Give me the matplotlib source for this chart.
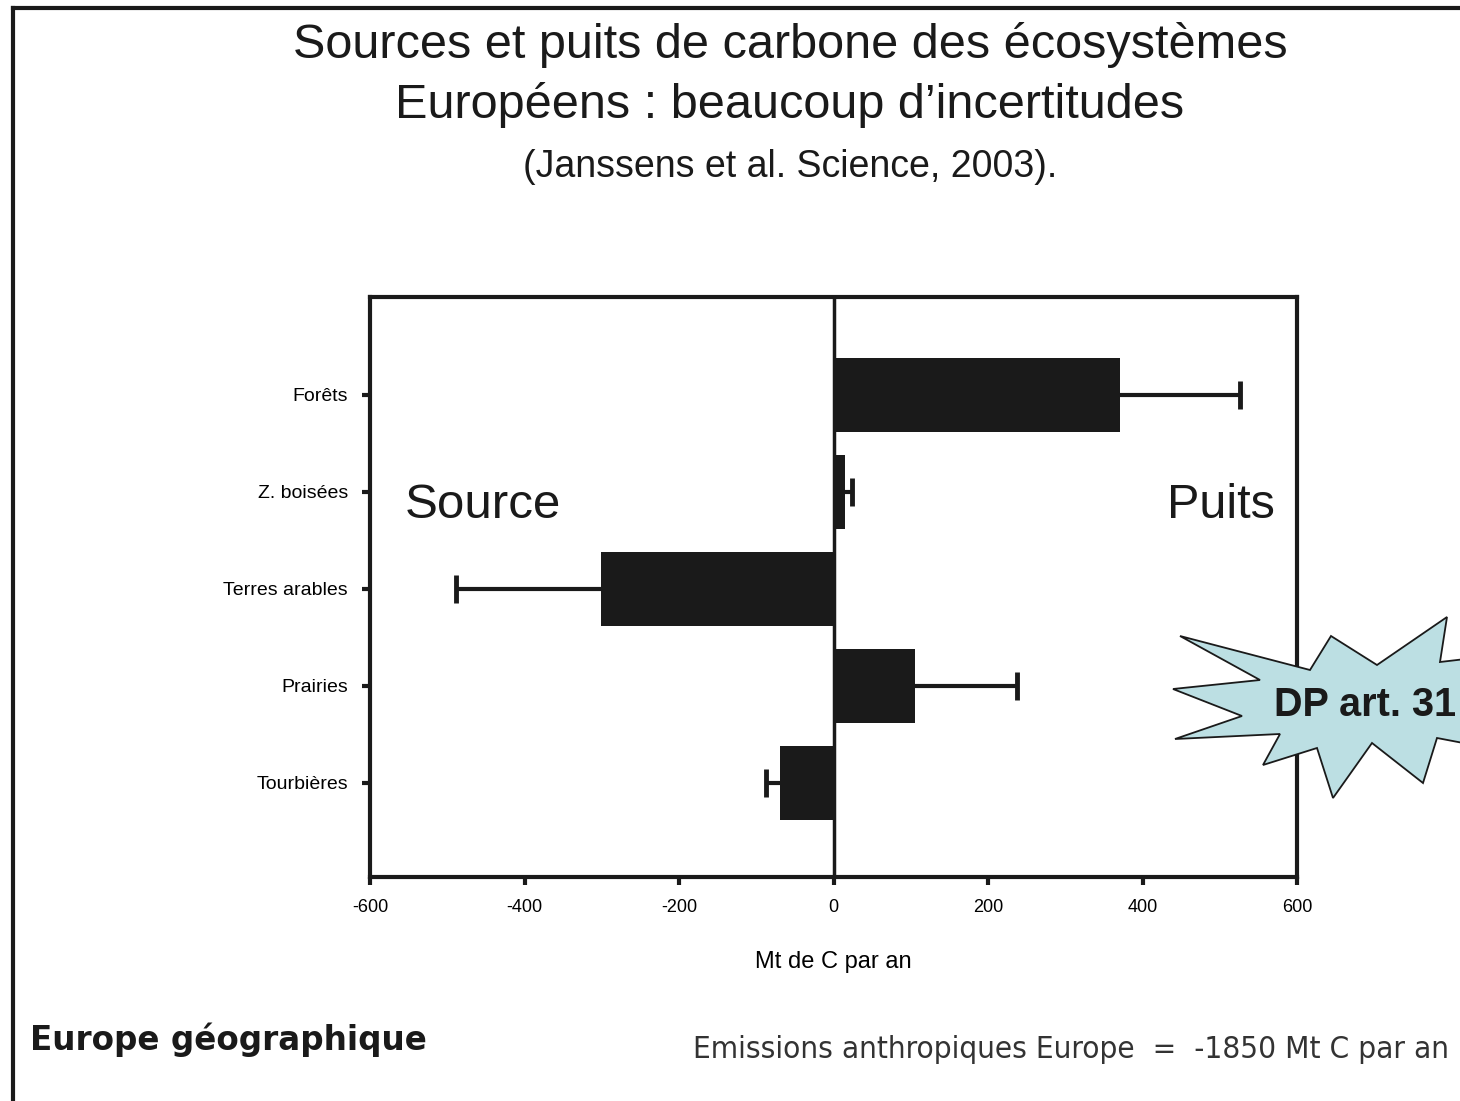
import matplotlib
matplotlib.use("Agg")
import matplotlib.pyplot as plt
from matplotlib.lines import Line2D
from matplotlib.patches import Polygon
import numpy as np

# data (Mt C per year), bottom to top
categories = ["Tourbières", "Prairies", "Terres arables", "Z. boisées", "Forêts"]
values = [-69, 105, -301, 15, 371]
err_ends = [-87, 237, -489, 24, 526]
xticks = [-600, -400, -200, 0, 200, 400, 600]

INK = "#1a1a1a"
W, H = 1460, 1101

fig = plt.figure(figsize=(W / 100, H / 100), dpi=100)
fig.patch.set_facecolor("white")
ax = fig.add_axes([370 / W, 1 - 877 / H, 927 / W, 580 / H])

pos = np.arange(1, len(categories) + 1)
ax.barh(pos, values, height=0.76, color=INK, zorder=2)
# one-sided error bars, cap only at the outer end
ax.hlines(pos, values, err_ends, color=INK, lw=3, zorder=3)
ax.plot(err_ends, pos, ls="none", marker="|", markersize=20, mew=3.5,
        color=INK, zorder=3)

ax.axvline(0, color=INK, lw=2.5, zorder=4)
ax.set_xlim(-600, 600)
ax.set_ylim(0.03, 6.01)
ax.set_xticks(xticks)
ax.set_xticklabels([str(t) for t in xticks], fontsize=13, family="Liberation Sans")
ax.set_yticks(pos)
ax.set_yticklabels(categories, fontsize=14, family="Liberation Sans")
ax.tick_params(axis="both", direction="out", length=6, width=3, color=INK, pad=10)
for s in ax.spines.values():
    s.set_linewidth(3)
    s.set_color(INK)
ax.set_xlabel("Mt de C par an", fontsize=17, family="Liberation Sans", labelpad=25)

ax.text(0.037, 0.64, "Source", transform=ax.transAxes, fontsize=35.5,
        family="Liberation Sans", color=INK, va="center")
ax.text(0.976, 0.64, "Puits", transform=ax.transAxes, fontsize=35,
        family="Liberation Sans", color=INK, va="center", ha="right")

# titles
fig.text(0.541, 1 - 45 / H, "Sources et puits de carbone des écosystèmes",
         fontsize=35, family="Liberation Sans", ha="center", va="center", color=INK)
fig.text(0.541, 1 - 105 / H, "Européens : beaucoup d’incertitudes",
         fontsize=35, family="Liberation Sans", ha="center", va="center", color=INK)
fig.text(0.541, 1 - 167 / H, "(Janssens et al. Science, 2003).",
         fontsize=27, family="Liberation Sans", ha="center", va="center", color=INK)

fig.text(30 / W, 1 - 1040 / H, "Europe géographique", fontsize=23.5,
         family="DejaVu Sans", weight="bold", ha="left", va="center", color=INK)
fig.text(693 / W, 1 - 1050 / H, "Emissions anthropiques Europe  =  -1850 Mt C par an",
         fontsize=22.6, family="DejaVu Sans", stretch="condensed",
         ha="left", va="center", color="#333333")

# frame (left and top edges)
fig.add_artist(Line2D([13 / W, 13 / W], [0, 1 - 8 / H], color=INK, lw=3,
                      transform=fig.transFigure))
fig.add_artist(Line2D([13 / W, 1], [1 - 8 / H, 1 - 8 / H], color=INK, lw=3,
                      transform=fig.transFigure))

# starburst callout (pixel outline, clipped by the page edge)
star = [(1180, 636), (1310, 670), (1331, 636), (1377, 665), (1447, 617),
        (1440, 662), (1500, 655), (1480, 700), (1500, 750), (1437, 738),
        (1423, 783), (1372, 743), (1333, 798), (1317, 748), (1263, 765),
        (1280, 734), (1175, 739), (1242, 716), (1173, 689), (1260, 680)]
star = [(x / W, 1 - y / H) for x, y in star]
fig.add_artist(Polygon(star, closed=True, facecolor="#bcdfe3", edgecolor=INK,
                       lw=1.3, transform=fig.transFigure, zorder=5))
fig.text(1274 / W, 1 - 705 / H, "DP art. 31", fontsize=28.5, weight="bold",
         family="Liberation Sans", ha="left", va="center", color=INK, zorder=6)

fig.savefig("out.png", dpi=100, facecolor="white")
